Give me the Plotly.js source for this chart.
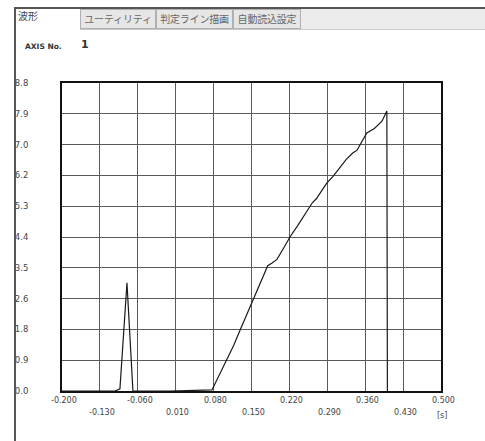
<!DOCTYPE html>
<html>
<head>
<meta charset="utf-8">
<script src="https://cdn.plot.ly/plotly-3.0.1.min.js"></script>
<style>
  html, body { margin: 0; padding: 0; background: #fff; }
  #wrap { position: relative; width: 485px; height: 441px; overflow: hidden; }
  #chart { position: absolute; left: 0; top: 0; width: 485px; height: 441px; }
  .ov { position: absolute; z-index: 5; font-family: "Noto Sans CJK JP", "DejaVu Sans", sans-serif; white-space: nowrap; }
  .tab { position: absolute; top: 9px; height: 20px; border: 1px solid #b0b0b0; background: #e6e6e6;
         font-size: 10px; color: #666; line-height: 18px; text-align: center; box-sizing: border-box; letter-spacing: -0.2px; }
</style>
</head>
<body>
<div id="wrap">
  <div id="chart"></div>
  <div class="ov" style="left:14px;top:7px;width:471px;height:2px;background:#555;"></div>
  <div class="ov" style="left:14px;top:7px;width:2px;height:434px;background:#555;"></div>
  <div class="ov" style="left:80px;top:9px;width:405px;height:20px;background:#ececec;"></div>
  <div class="ov" style="left:80px;top:29px;width:405px;height:1px;background:#c8c8c8;"></div>
  <div class="ov" style="left:18px;top:8px;font-size:10px;color:#444;">波形</div>
  <div class="ov tab" style="left:80px;width:76px;">ユーティリティ</div>
  <div class="ov tab" style="left:156px;width:77px;">判定ライン描画</div>
  <div class="ov tab" style="left:233px;width:68px;">自動読込設定</div>
  <div class="ov" style="left:25px;top:42px;font-family:'DejaVu Sans';font-size:7.5px;color:#333;font-weight:bold;">AXIS No.</div>
  <div class="ov" style="left:81px;top:38px;font-family:'DejaVu Sans';font-size:11px;color:#333;font-weight:bold;">1</div>
</div>
<script>
// Data
const timeS = [-0.200, -0.102, -0.093, -0.080, -0.069, 0.000, 0.077, 0.090, 0.105, 0.117, 0.129, 0.141, 0.153, 0.167, 0.180, 0.188, 0.197, 0.210, 0.221, 0.235, 0.249, 0.262, 0.270, 0.276, 0.289, 0.301, 0.313, 0.325, 0.337, 0.345, 0.350, 0.363, 0.377, 0.385, 0.391, 0.400, 0.401];
const force = [0.00, 0.00, 0.06, 3.09, 0.00, 0.00, 0.03, 0.45, 0.89, 1.30, 1.74, 2.18, 2.60, 3.10, 3.58, 3.66, 3.76, 4.10, 4.40, 4.72, 5.05, 5.37, 5.50, 5.64, 5.94, 6.14, 6.37, 6.62, 6.80, 6.88, 7.02, 7.37, 7.50, 7.62, 7.71, 8.00, 0.00];

const xTicks = [-0.200, -0.130, -0.060, 0.010, 0.080, 0.150, 0.220, 0.290, 0.360, 0.430, 0.500];
const xTickLabels = ["-0.200", "-0.130", "-0.060", "0.010", "0.080", "0.150", "0.220", "0.290", "0.360", "0.430", "0.500"];
const yTicks = [0, 0.88, 1.76, 2.64, 3.52, 4.40, 5.28, 6.16, 7.04, 7.92, 8.80];
const yTickLabels = ["0.0", "0.9", "1.8", "2.6", "3.5", "4.4", "5.3", "6.2", "7.0", "7.9", "8.8"];
const xUnit = "[s]";

const tickFont = {family: "DejaVu Sans", size: 8, color: "#444"};

const annotations = xTicks.map((v, i) => ({
  x: v, xref: "x", y: 0, yref: "paper", yanchor: "top", xanchor: "center",
  yshift: i % 2 === 0 ? -3 : -15, xshift: 2,
  text: xTickLabels[i], showarrow: false, font: tickFont
}));
annotations.push({x: 1, xref: "paper", y: 0, yref: "paper", yanchor: "top", xanchor: "center",
  yshift: -18, xshift: 1, text: xUnit, showarrow: false, font: tickFont});

const trace = {
  x: timeS, y: force, type: "scatter", mode: "lines",
  line: {color: "#1a1a1a", width: 1.2}, hoverinfo: "skip"
};

const layout = {
  width: 485, height: 441,
  margin: {l: 62, r: 44, t: 83, b: 50},
  paper_bgcolor: "#fff", plot_bgcolor: "#fff",
  showlegend: false,
  xaxis: {
    range: [-0.2, 0.5], tickvals: xTicks, showticklabels: false, ticks: "",
    showgrid: true, gridcolor: "#5a5a5a", gridwidth: 1, zeroline: false,
    showline: true, mirror: true, linecolor: "#111", linewidth: 2
  },
  yaxis: {
    range: [0, 8.8], tickvals: yTicks, ticktext: yTickLabels, ticks: "",
    showgrid: true, gridcolor: "#5a5a5a", gridwidth: 1, zeroline: false,
    showline: true, mirror: true, linecolor: "#111", linewidth: 2,
    tickfont: {family: "DejaVu Sans", size: 8.5, color: "#444"},
    ticklabelstandoff: 30
  },
  annotations: annotations
};

Plotly.newPlot("chart", [trace], layout, {staticPlot: true, displayModeBar: false});
</script>
</body>
</html>
